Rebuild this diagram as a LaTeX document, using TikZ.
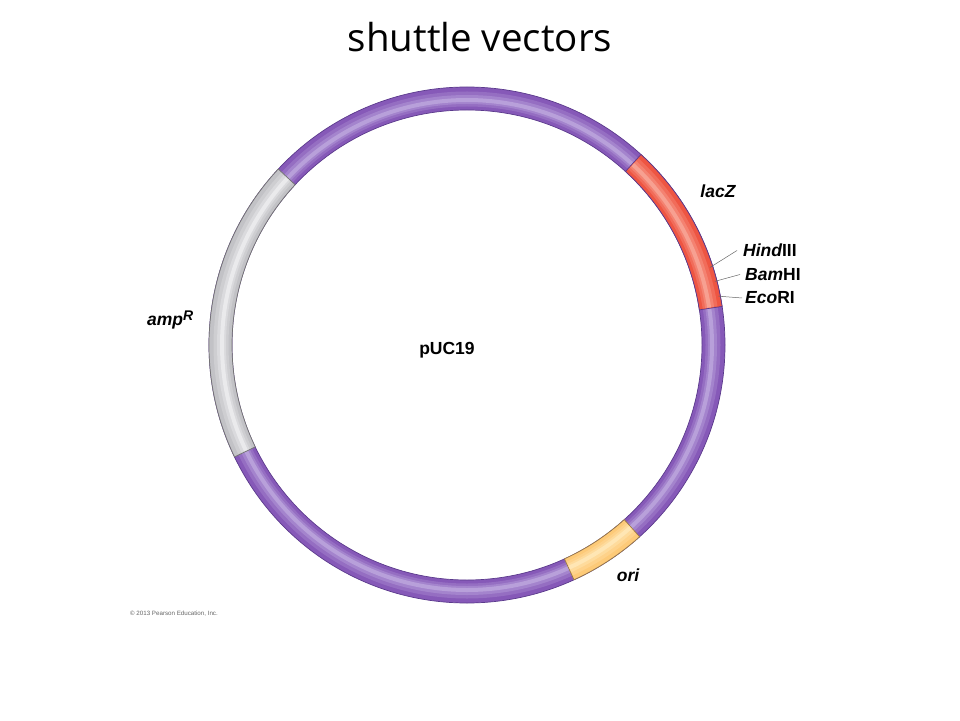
\documentclass[tikz,border=0pt]{standalone}
\usepackage{fontspec}
\setmainfont{Liberation Sans}
\newfontfamily\titlefont{Open Sans}
\definecolor{ringedge}{HTML}{5B3A8C}
\definecolor{ringbase}{HTML}{8659B8}
\definecolor{ringlight}{HTML}{B8A0DA}
\definecolor{lacbase}{HTML}{EE5542}
\definecolor{laclight}{HTML}{F7A091}
\definecolor{ampbase}{HTML}{C2C2C6}
\definecolor{amplight}{HTML}{EAEAEC}
\definecolor{oribase}{HTML}{FDCA78}
\definecolor{orilight}{HTML}{FFE6B4}
\tikzset{
  label/.style={font=\fontsize{17.5}{20}\selectfont\bfseries\itshape, inner sep=0pt},
  site/.style={label, anchor=west},
  tick/.style={draw=black!60, line width=0.5pt},
  edge/.style={draw=ringedge, line width=0.7pt},
}
\begin{document}
\begin{tikzpicture}[x=1pt,y=1pt]
      \useasboundingbox (-467,-375) rectangle (493,345);
      % the ring
      \fill[ringbase, even odd rule] (0,0) circle[radius=258] (0,0) circle[radius=235];
      \draw[ringbase!70!ringlight, line width=15pt] (0,0) circle[radius=246];
      \draw[ringbase!40!ringlight, line width=9pt] (0,0) circle[radius=245.5];
      \draw[ringlight, line width=4pt] (0,0) circle[radius=245];
      \draw[edge] (0,0) circle[radius=258] (0,0) circle[radius=235];
      % lacZ
      \filldraw[fill=lacbase, edge] (8.6:258) arc[start angle=8.6, end angle=47.6, radius=258]
        -- (47.6:235) arc[start angle=47.6, end angle=8.6, radius=235] -- cycle;
      \draw[lacbase!70!laclight, line width=15pt] (8.8:246) arc[start angle=8.8, end angle=47.4, radius=246];
      \draw[lacbase!40!laclight, line width=9pt] (8.8:245.5) arc[start angle=8.8, end angle=47.4, radius=245.5];
      \draw[laclight, line width=4pt] (8.8:245) arc[start angle=8.8, end angle=47.4, radius=245];
      % ampR
      \filldraw[fill=ampbase, edge, draw=black!55] (137:258) arc[start angle=137, end angle=205.7, radius=258]
        -- (205.7:235) arc[start angle=205.7, end angle=137, radius=235] -- cycle;
      \draw[ampbase!70!amplight, line width=15pt] (137.2:246) arc[start angle=137.2, end angle=205.5, radius=246];
      \draw[ampbase!40!amplight, line width=9pt] (137.2:245.5) arc[start angle=137.2, end angle=205.5, radius=245.5];
      \draw[amplight, line width=4pt] (137.2:245) arc[start angle=137.2, end angle=205.5, radius=245];
      % ori
      \filldraw[fill=oribase, edge, draw=oribase!60!black] (294.5:258) arc[start angle=294.5, end angle=312, radius=258]
        -- (312:235) arc[start angle=312, end angle=294.5, radius=235] -- cycle;
      \draw[oribase!70!orilight, line width=15pt] (294.7:246) arc[start angle=294.7, end angle=311.8, radius=246];
      \draw[oribase!40!orilight, line width=9pt] (294.7:245.5) arc[start angle=294.7, end angle=311.8, radius=245.5];
      \draw[orilight, line width=4pt] (294.7:245) arc[start angle=294.7, end angle=311.8, radius=245];
      % labels
      \node[font=\titlefont\fontsize{38.5}{44}\selectfont] (title) at (13,308) {shuttle vectors};
      \node[font=\fontsize{17.5}{20}\selectfont\bfseries, inner sep=0pt] (puc) at (-20,-5) {pUC19};
      \node[label] (lacz) at (251,154) {lacZ};
      \node[label, anchor=base west] (amp) at (-320,20) {amp\raisebox{5pt}{\fontsize{14}{14}\selectfont R}};
      \node[label] (ori) at (161,-230) {ori};
      \node[site] (hind) at (276,94.5) {Hind\upshape III};
      \node[site] (bam) at (278,70.5) {Bam\upshape HI};
      \node[site] (eco) at (278,47) {Eco\upshape RI};
      \coordinate (hindcut) at (17.7:255);
      \coordinate (bamcut) at (14.4:256);
      \coordinate (ecocut) at (11:256);
      \begin{scope}[tick]
        \draw (hindcut) to ([xshift=-6pt]hind.west);
        \draw (bamcut) to ([xshift=-5pt]bam.west);
        \draw (ecocut) to ([xshift=-3pt]eco.west);
      \end{scope}
      \node[font=\fontsize{6.2}{7}\selectfont, text=black!60, anchor=west, inner sep=0pt] (copy) at (-337,-269) {\textcopyright\ 2013 Pearson Education, Inc.};
    \end{tikzpicture}
\end{document}
